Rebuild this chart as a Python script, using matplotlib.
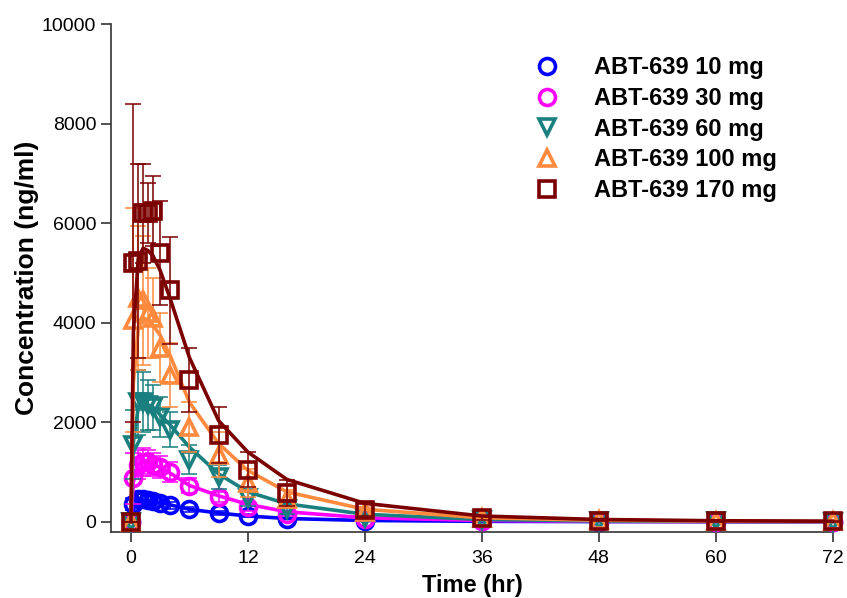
import matplotlib
matplotlib.use("Agg")
from matplotlib import pyplot as plt
from matplotlib.lines import Line2D

plt.rcParams['font.family'] = ['Liberation Sans', 'DejaVu Sans']

# ######### Data #########
time_hr = [0, 0.25, 0.75, 1.25, 1.75, 2.25, 3, 4, 6, 9, 12, 16, 24, 36, 48, 60, 72]

labels = ['ABT-639 10 mg', 'ABT-639 30 mg', 'ABT-639 60 mg', 'ABT-639 100 mg', 'ABT-639 170 mg']

# observed means
obs_10 = [0, 350, 450, 450, 440, 420, 380, 330, 250, 180, 120, 60, 20, 6, 2, 1, 0]
obs_30 = [0, 870, 1150, 1200, 1200, 1150, 1100, 1000, 720, 490, 290, 160, 50, 15, 5, 2, 1]
obs_60 = [0, 1550, 2400, 2400, 2350, 2300, 2100, 1850, 1250, 900, 470, 250, 80, 30, 10, 5, 2]
obs_100 = [0, 4050, 4500, 4450, 4200, 4100, 3500, 2950, 1900, 1350, 780, 450, 200, 70, 25, 10, 5]
obs_170 = [0, 5200, 5250, 6200, 6200, 6250, 5400, 4650, 2850, 1750, 1050, 580, 240, 80, 20, 10, 5]

# standard deviations
sd_10 = [0, 120, 100, 100, 90, 90, 80, 70, 50, 40, 30, 15, 5, 2, 1, 1, 0]
sd_30 = [0, 520, 300, 280, 250, 230, 220, 200, 150, 100, 80, 50, 20, 8, 3, 2, 1]
sd_60 = [0, 700, 650, 600, 500, 450, 400, 350, 300, 250, 150, 100, 40, 15, 8, 4, 2]
sd_100 = [0, 2250, 1450, 1300, 900, 800, 700, 650, 500, 450, 280, 180, 100, 40, 20, 10, 5]
sd_170 = [0, 3200, 1950, 1000, 600, 700, 1050, 1070, 650, 560, 360, 260, 120, 40, 15, 8, 4]

# model predictions
fit_10 = [0, 280, 400, 430, 425, 410, 385, 340, 250, 175, 115, 65, 25, 8, 3, 1, 0]
fit_30 = [0, 800, 1150, 1200, 1190, 1160, 1090, 980, 730, 520, 350, 200, 80, 25, 8, 3, 1]
fit_60 = [0, 1600, 2300, 2400, 2350, 2300, 2150, 1950, 1500, 960, 600, 360, 150, 45, 15, 5, 2]
fit_100 = [0, 2800, 3900, 4100, 4050, 3950, 3750, 3350, 2400, 1570, 1030, 600, 250, 80, 30, 12, 5]
fit_170 = [0, 3800, 5300, 5500, 5450, 5350, 5050, 4500, 3300, 2030, 1400, 850, 370, 115, 45, 20, 10]

obs = [obs_10, obs_30, obs_60, obs_100, obs_170]
sds = [sd_10, sd_30, sd_60, sd_100, sd_170]
fits = [fit_10, fit_30, fit_60, fit_100, fit_170]

colors = ['#0000FF', '#FF00FF', '#1A7F7F', '#FF8A3D', '#7B0000']
markers = ['o', 'o', 'v', '^', 's']

# ######### Plot #########
fig = plt.figure(figsize=(8.47, 5.98), dpi=100)
ax = fig.add_axes([0.1316, 0.1109, 0.8513, 0.8485])

for i in range(5):
    ax.errorbar(time_hr, obs[i], yerr=sds[i], fmt='none', ecolor=colors[i],
                elinewidth=1.1, capsize=6, capthick=1.1, clip_on=False, zorder=2 + i)
    ax.plot(time_hr, obs[i], ls='none', marker=markers[i], ms=11.5, mfc='none',
            mec=colors[i], mew=2.6, clip_on=False, zorder=2 + i)
    ax.plot(time_hr, fits[i], color=colors[i], lw=2.6, clip_on=False, zorder=2 + i)

ax.set_xlim(-2, 72)
ax.set_ylim(-200, 10000)
ax.set_xticks([0, 12, 24, 36, 48, 60, 72])
ax.set_yticks([0, 2000, 4000, 6000, 8000, 10000])

for s in ['top', 'right']:
    ax.spines[s].set_visible(False)
for s in ['left', 'bottom']:
    ax.spines[s].set_linewidth(1.2)
    ax.spines[s].set_color('#333333')

ax.tick_params(axis='both', direction='out', length=7, width=1.2, color='#333333')
ax.tick_params(axis='y', labelsize=14, pad=4)
ax.tick_params(axis='x', labelsize=14, pad=6)

ax.set_ylabel('Concentration (ng/ml)', fontsize=19, fontweight='bold', labelpad=2)
ax.set_xlabel('Time (hr)', fontsize=17, fontweight='bold', labelpad=5)

handles = [Line2D([], [], ls='none', marker=markers[i], ms=11.5, mfc='none',
                  mec=colors[i], mew=2.6) for i in range(5)]
fig.legend(handles, labels, loc='upper left', bbox_to_anchor=(523 / 847, 1 - 56 / 598),
           frameon=False, prop={'size': 17, 'weight': 'bold'}, borderpad=0,
           borderaxespad=0, handlelength=2.0, handletextpad=1.0, labelspacing=0.33)

fig.savefig('out.png', dpi=100)
